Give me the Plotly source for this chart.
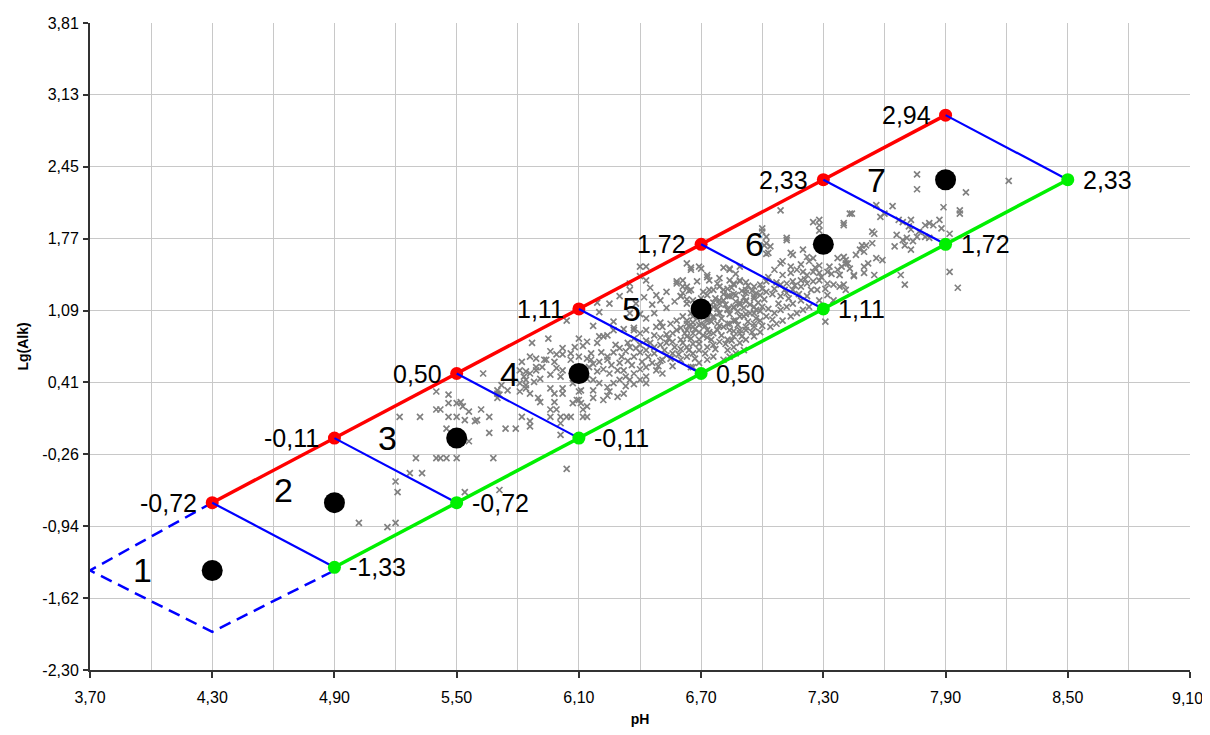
import plotly.graph_objects as go

# ---------------- data ----------------
ph_upper = [4.30, 4.90, 5.50, 6.10, 6.70, 7.30, 7.90]
alk_upper = [-0.72, -0.11, 0.50, 1.11, 1.72, 2.33, 2.94]
ph_lower = [4.90, 5.50, 6.10, 6.70, 7.30, 7.90, 8.50]
alk_lower = [-1.33, -0.72, -0.11, 0.50, 1.11, 1.72, 2.33]
upper_labels = ["-0,72", "-0,11", "0,50", "1,11", "1,72", "2,33", "2,94"]
lower_labels = ["-1,33", "-0,72", "-0,11", "0,50", "1,11", "1,72", "2,33"]

zone_ph = [4.30, 4.90, 5.50, 6.10, 6.70, 7.30, 7.90]
zone_alk = [-1.36, -0.72, -0.11, 0.50, 1.11, 1.72, 2.33]
zone_names = ["1", "2", "3", "4", "5", "6", "7"]

zone1_ph = [4.30, 3.70, 4.30, 4.90]
zone1_alk = [-0.72, -1.36, -1.94, -1.36]

xtick_text = ["3,70", "4,30", "4,90", "5,50", "6,10", "6,70", "7,30", "7,90", "8,50", "9,10"]
ytick_text = ["-2,30", "-1,62", "-0,94", "-0,26", "0,41", "1,09", "1,77", "2,45", "3,13", "3,81"]

sample_points = [
    # tail / zone 3
    (5.02, -0.91), (5.16, -0.95), (5.20, -0.91), (5.20, -0.52), (5.21, -0.62), (5.27, -0.44),
    (5.33, -0.44), (5.30, -0.30), (5.40, -0.30), (5.42, -0.30), (5.45, -0.30), (5.50, -0.30),
    (5.68, -0.30), (5.54, -0.62), (5.71, -0.60), (5.56, -0.14), (5.45, -0.02), (5.66, -0.06),
    (5.74, -0.02), (5.79, -0.02), (5.82, 0.09), (5.86, 0.05), (5.86, 0.00), (5.22, 0.09),
    (5.32, 0.09), (5.46, 0.09), (5.50, 0.09), (5.54, 0.06), (5.59, 0.05), (5.60, 0.06),
    (5.66, 0.09), (5.40, 0.16), (5.42, 0.16), (5.62, 0.16), (5.56, 0.14), (5.53, 0.19),
    (5.52, 0.23), (5.50, 0.22), (5.46, 0.22), (5.46, 0.30), (5.40, 0.33), (5.63, 0.50),
    (6.04, -0.40), (6.01, -0.08),
    # zone 4
    (5.70, 0.34), (5.70, 0.27), (5.71, 0.30), (5.75, 0.34), (5.81, 0.33), (5.84, 0.36),
    (5.86, 0.31), (5.90, 0.27), (5.91, 0.23), (5.84, 0.44), (5.88, 0.42), (5.84, 0.52),
    (5.89, 0.53), (5.92, 0.56), (5.94, 0.63), (5.98, 0.61), (5.99, 0.55), (6.01, 0.47),
    (5.96, 0.36), (5.98, 0.31), (6.02, 0.36), (6.02, 0.31), (5.98, 0.23), (5.96, 0.16),
    (5.99, 0.16), (5.96, 0.09), (6.01, 0.09), (6.04, 0.09), (6.06, 0.09), (6.01, 0.03),
    (6.07, 0.22), (6.09, 0.25), (6.11, 0.34), (6.07, 0.41), (5.99, 0.68), (6.02, 0.68),
    (6.06, 0.69), (5.96, 0.71), (5.91, 0.45), (5.82, 0.61), (5.81, 0.41), (5.84, 0.39),
    (5.86, 0.50), (5.95, 0.83), (6.04, 1.00), (6.02, 0.74), (5.89, 0.64), (5.86, 0.66),
    (5.93, 0.63), (5.87, 0.79), (5.81, 0.53), (5.72, 0.39), (5.70, 0.31), (5.83, 0.47),
    (5.89, 0.56), (5.96, 0.49), (6.02, 0.53), (6.06, 0.63), (6.10, 0.66), (6.08, 0.75),
    (6.12, 0.09), (6.14, 0.19), (6.10, 0.25), (6.17, 0.27), (6.22, 0.25), (6.25, 0.33),
    (6.11, 0.22), (6.12, 0.16), (6.14, 0.09), (6.29, 0.28), (6.32, 0.31), (6.17, 0.34),
    (6.24, 0.29), (6.35, 0.44), (6.43, 0.41), (6.32, 0.53), (6.24, 0.66), (6.19, 0.79),
    (6.22, 0.85), (6.27, 0.91), (6.37, 0.91), (6.35, 0.75), (6.51, 0.63), (6.65, 0.56),
    (6.10, 0.33), (6.14, 0.45), (6.12, 0.53), (6.16, 0.63), (6.10, 0.83),
    # zone 5
    (6.40, 1.51), (6.43, 1.51), (6.40, 1.42), (6.63, 1.54), (6.69, 1.51), (6.58, 1.35),
    (6.35, 1.29), (6.30, 1.23), (6.25, 1.16),
    (6.65, 1.50), (6.73, 1.41), (6.81, 1.50), (6.87, 1.44), (6.58, 1.37), (6.61, 1.32),
    (6.64, 1.28), (6.68, 1.37), (6.71, 1.27), (6.74, 1.29), (6.78, 1.35), (6.83, 1.30),
    (6.86, 1.34), (6.89, 1.37), (6.92, 1.36), (6.95, 1.28), (6.45, 1.31), (6.48, 1.24),
    (6.53, 1.27), (6.57, 1.18), (6.60, 1.23), (6.63, 1.20), (6.46, 1.15), (6.50, 1.19),
    (6.53, 1.12), (6.19, 1.17), (6.20, 1.08), (6.47, 1.07), (6.50, 0.98), (6.43, 1.02),
    (6.40, 1.06), (6.37, 0.93), (6.32, 0.92), (6.27, 0.99), (6.24, 0.86), (6.20, 0.85),
    (6.17, 0.95), (6.14, 0.80), (6.12, 0.76), (6.16, 0.69), (6.17, 0.59), (6.14, 0.64),
    (6.20, 0.61), (6.24, 0.63), (6.27, 0.70), (6.30, 0.74), (6.34, 0.79), (6.37, 0.83),
    (6.40, 0.77), (6.43, 0.81), (6.47, 0.86), (6.50, 0.84), (6.53, 0.87), (6.56, 0.88),
    (6.60, 0.93), (6.63, 0.97), (6.66, 0.98), (6.69, 0.96), (6.73, 1.02), (6.76, 1.03),
    (6.79, 1.07), (6.83, 1.11), (6.86, 1.12), (6.89, 1.17), (6.92, 1.19), (6.96, 1.23),
    (6.76, 1.17), (6.79, 1.19), (6.83, 1.23), (6.86, 1.25), (6.92, 1.26), (6.96, 1.13),
    (6.99, 1.09), (6.79, 0.95), (6.83, 0.97), (6.86, 1.00), (6.89, 1.04), (6.92, 1.06),
    (6.96, 1.07), (6.76, 0.88), (6.73, 0.84), (6.69, 0.82), (6.66, 0.78), (6.63, 0.75),
    (6.60, 0.73), (6.56, 0.69), (6.53, 0.67), (6.50, 0.62), (6.46, 0.60), (6.43, 0.56),
    (6.40, 0.54), (6.37, 0.50), (6.33, 0.47), (6.30, 0.44), (6.27, 0.41), (6.24, 0.37),
    (6.20, 0.41), (6.17, 0.44), (6.30, 0.60), (6.34, 0.62), (6.37, 0.66), (6.40, 0.70),
    (6.43, 0.72), (6.47, 0.75), (6.50, 0.77), (6.53, 0.79), (6.56, 0.80), (6.60, 0.82),
    (6.63, 0.85), (6.66, 0.88), (6.69, 0.89), (6.73, 0.91), (6.60, 0.63), (6.63, 0.66),
    (6.66, 0.69), (6.69, 0.72), (6.73, 0.75), (6.76, 0.77), (6.79, 0.80), (6.83, 0.82),
    (6.86, 0.85), (6.89, 0.88), (6.92, 0.91), (6.96, 0.94), (6.83, 0.72), (6.86, 0.75),
    (6.89, 0.79), (6.92, 0.82), (6.96, 0.85), (6.81, 0.63), (6.84, 0.66), (6.87, 0.69),
    (6.91, 0.72), (6.76, 0.66), (6.73, 0.63), (6.69, 0.60), (6.66, 0.56), (6.51, 0.50),
    (6.48, 0.53), (6.56, 0.57), (6.43, 0.47), (6.40, 0.44), (6.37, 0.40), (6.33, 0.38),
    (6.29, 0.53), (6.25, 0.50), (6.22, 0.54), (6.51, 0.94), (6.55, 0.97), (6.58, 1.00),
    (6.61, 1.04), (6.65, 1.07), (6.68, 1.10), (6.40, 0.88), (6.43, 0.91), (6.48, 0.94),
    (6.35, 1.07), (6.38, 1.16), (6.42, 1.22), (6.43, 1.38), (6.35, 1.35),
    (6.31, 0.66), (6.33, 0.71), (6.36, 0.58), (6.38, 0.74), (6.41, 0.61), (6.44, 0.66),
    (6.45, 0.79), (6.47, 0.69), (6.49, 0.57), (6.52, 0.72), (6.54, 0.83), (6.55, 0.64),
    (6.57, 0.75), (6.58, 0.91), (6.59, 0.68), (6.61, 0.79), (6.62, 0.88), (6.64, 0.72),
    (6.64, 0.95), (6.65, 0.83), (6.67, 0.64), (6.67, 0.92), (6.68, 1.02), (6.69, 0.78),
    (6.71, 0.86), (6.71, 1.14), (6.72, 0.95), (6.72, 0.69), (6.74, 1.08), (6.75, 0.82),
    (6.75, 0.99), (6.77, 1.21), (6.77, 0.73), (6.78, 0.97), (6.78, 1.11), (6.80, 0.86),
    (6.80, 1.02), (6.81, 1.25), (6.82, 0.78), (6.82, 1.15), (6.84, 0.91), (6.84, 1.06),
    (6.85, 1.31), (6.85, 0.81), (6.87, 1.18), (6.88, 0.96), (6.88, 1.09), (6.90, 1.28),
    (6.90, 0.85), (6.91, 1.12), (6.93, 0.99), (6.93, 1.33), (6.94, 1.15), (6.95, 0.89),
    (6.97, 1.26), (6.97, 1.02), (6.98, 1.17), (7.00, 1.30), (7.00, 0.95), (7.01, 1.20),
    (7.03, 1.11), (7.03, 1.41), (7.05, 1.25), (7.05, 1.01), (7.07, 1.36), (7.08, 1.16),
    (7.10, 1.43), (7.11, 1.29), (7.13, 1.21), (7.14, 1.45), (7.16, 1.33), (7.18, 1.25),
    (7.20, 1.46), (7.21, 1.39), (7.24, 1.29), (7.26, 1.50), (7.29, 1.41), (7.31, 1.30),
    (7.34, 1.44), (6.26, 0.58), (6.28, 0.77), (6.21, 0.70), (6.19, 0.52), (6.15, 0.56),
    # zone 6
    (7.09, 2.04), (7.43, 2.01), (7.25, 1.93), (7.28, 1.95), (7.40, 1.92), (7.28, 1.90),
    (7.00, 1.87), (7.02, 1.79), (7.01, 1.71), (7.04, 1.70), (7.02, 1.63), (7.12, 1.76),
    (7.14, 1.64), (7.15, 1.62), (7.20, 1.67), (7.22, 1.60), (7.25, 1.59), (7.23, 1.56),
    (7.09, 1.54), (7.10, 1.56), (7.06, 1.48), (7.14, 1.51), (7.17, 1.48), (7.19, 1.53),
    (7.28, 1.52), (7.33, 1.51), (7.37, 1.59), (7.40, 1.60), (7.41, 1.54), (7.43, 1.49),
    (7.45, 1.42), (7.38, 1.43), (7.37, 1.48), (7.32, 1.46), (7.28, 1.45), (7.25, 1.46),
    (7.22, 1.43), (7.19, 1.38), (7.15, 1.37), (7.12, 1.35), (7.09, 1.34), (7.06, 1.30),
    (7.02, 1.27), (6.99, 1.24), (6.96, 1.21), (6.92, 1.18), (6.89, 1.15), (6.86, 1.13),
    (6.83, 1.10), (6.79, 1.07), (6.76, 1.04), (6.73, 1.00), (6.70, 0.97), (6.66, 0.94),
    (6.63, 0.91), (6.92, 1.29), (6.96, 1.32), (6.99, 1.34), (7.02, 1.37), (6.89, 1.38),
    (6.86, 1.35), (6.84, 1.38), (6.79, 1.32), (6.76, 1.29), (6.73, 1.24), (6.70, 1.21),
    (6.66, 1.19), (6.63, 1.16), (6.60, 1.23), (6.63, 1.32), (6.65, 1.29), (6.61, 1.26),
    (6.81, 1.19), (6.84, 1.23), (6.87, 1.24), (6.91, 1.22), (6.79, 1.16), (6.76, 1.13),
    (6.73, 1.10), (6.70, 1.07), (6.66, 1.04), (6.63, 1.00), (7.09, 1.23), (7.12, 1.26),
    (7.15, 1.29), (7.19, 1.32), (7.22, 1.35), (7.25, 1.37), (7.28, 1.38), (7.32, 1.35),
    (7.35, 1.34), (7.38, 1.32), (7.41, 1.29), (7.22, 1.23), (7.19, 1.19), (7.15, 1.16),
    (7.12, 1.13), (7.09, 1.10), (7.06, 1.07), (7.02, 1.04), (6.99, 1.00), (6.96, 0.97),
    (6.92, 0.94), (6.89, 0.91), (6.86, 0.90), (7.27, 1.29), (7.32, 1.24), (7.35, 1.19),
    (7.00, 1.13), (6.97, 1.10), (6.94, 1.07), (6.91, 1.04), (6.87, 1.00), (6.84, 0.97),
    (6.81, 0.94), (6.78, 0.91), (6.74, 0.89), (6.65, 1.48), (6.70, 1.49), (6.84, 1.48),
    (6.89, 1.51), (6.79, 1.40), (6.81, 1.29), (6.74, 1.38), (6.61, 1.38), (6.99, 0.89),
    (7.04, 0.94), (7.07, 0.97), (7.10, 1.00), (7.14, 1.04), (7.17, 1.07), (7.20, 1.10),
    (7.23, 1.13), (7.31, 0.99), (7.28, 1.19), (7.00, 1.84), (7.02, 1.73), (7.12, 1.78),
    (7.03, 1.64), (7.28, 1.85), (6.84, 1.49), (6.73, 1.43),
    # zone 7
    (7.76, 2.38), (7.76, 2.24), (8.00, 2.21), (8.21, 2.32), (7.89, 2.07), (7.97, 2.04),
    (7.97, 2.01), (7.44, 2.01), (7.40, 1.90), (7.56, 2.09), (7.64, 2.08), (7.67, 1.95),
    (7.69, 1.93), (7.72, 1.89), (7.73, 1.95), (7.80, 1.90), (7.82, 1.92), (7.84, 1.90),
    (7.73, 1.86), (7.77, 1.84), (7.54, 1.84), (7.55, 1.82), (7.66, 1.81), (7.69, 1.76),
    (7.71, 1.78), (7.74, 1.75), (7.76, 1.79), (7.80, 1.79), (7.92, 1.82), (7.88, 1.87),
    (7.49, 1.71), (7.51, 1.71), (7.54, 1.73), (7.48, 1.67), (7.46, 1.62), (7.50, 1.65),
    (7.40, 1.60), (7.41, 1.57), (7.42, 1.54), (7.39, 1.51), (7.45, 1.43), (7.50, 1.51),
    (7.56, 1.59), (7.59, 1.57), (7.52, 1.54), (7.65, 1.70), (7.70, 1.71), (7.73, 1.67),
    (7.50, 1.45), (7.55, 1.43), (7.68, 1.43), (7.70, 1.34), (7.92, 1.46), (7.96, 1.31),
    (7.40, 1.34), (7.38, 1.43), (7.58, 1.98), (7.60, 2.01), (7.87, 1.95), (7.82, 1.78),
]
sample_ph = [p[0] for p in sample_points]
sample_alk = [p[1] for p in sample_points]

# ---------------- figure ----------------
FONT = "Liberation Sans, Arial, sans-serif"
TICK_SIZE = 16
fig = go.Figure()

fig.add_trace(go.Scatter(
    x=sample_ph, y=sample_alk, mode="markers",
    marker=dict(symbol="x-thin", size=6, color="#808080",
                line=dict(width=1.7, color="#808080")),
    hoverinfo="skip"))

fig.add_trace(go.Scatter(
    x=zone1_ph, y=zone1_alk, mode="lines",
    line=dict(color="#0000FF", width=2.5, dash="12px,7px")))

fig.add_trace(go.Scatter(
    x=ph_upper, y=alk_upper, mode="lines+markers",
    line=dict(color="#FF0000", width=3.5),
    marker=dict(color="#FF0000", size=13)))

blue_x, blue_y = [], []
for i in range(len(ph_upper)):
    blue_x += [ph_upper[i], ph_lower[i], None]
    blue_y += [alk_upper[i], alk_lower[i], None]
fig.add_trace(go.Scatter(x=blue_x, y=blue_y, mode="lines",
                         line=dict(color="#0000FF", width=2.2)))

fig.add_trace(go.Scatter(
    x=ph_lower, y=alk_lower, mode="lines+markers",
    line=dict(color="#00F000", width=3.5),
    marker=dict(color="#00F000", size=13)))

fig.add_trace(go.Scatter(
    x=zone_ph, y=zone_alk, mode="markers",
    marker=dict(color="#000000", size=21)))

annotations = []
for x, y, t in zip(ph_upper, alk_upper, upper_labels):
    annotations.append(dict(x=x, y=y, text=t, showarrow=False, xanchor="right",
                            yanchor="middle", xshift=-13,
                            font=dict(family=FONT, size=25, color="#000")))
for x, y, t in zip(ph_lower, alk_lower, lower_labels):
    annotations.append(dict(x=x, y=y, text=t, showarrow=False, xanchor="left",
                            yanchor="middle", xshift=13,
                            font=dict(family=FONT, size=25, color="#000")))
for i, (x, y, t) in enumerate(zip(zone_ph, zone_alk, zone_names)):
    dx, dy = (-0.25, 0.12) if i == 1 else (-0.34, 0.0)
    annotations.append(dict(x=x + dx, y=y + dy, text=t, showarrow=False,
                            xanchor="center", yanchor="middle",
                            font=dict(family=FONT, size=34, color="#000")))

xmin, xmax = 3.70, 9.10
xtick_vals = [xmin + i * 0.6 for i in range(len(xtick_text))]
# last x tick label sits on the page edge: draw it as an annotation nudged inward
xtick_shown = xtick_text[:-1] + [""]
annotations.append(dict(x=xtick_vals[-1], y=0, xref="x", yref="paper", text=xtick_text[-1],
                        showarrow=False, xanchor="center", yanchor="top", xshift=-3, yshift=-18,
                        font=dict(family=FONT, size=TICK_SIZE, color="#000")))

ymin, ymax = -2.30, 3.81
ytick_vals = [ymin + i * (ymax - ymin) / 9 for i in range(10)]

# the page body adds an 8px offset at the top-left
fig.update_layout(
    width=1202, height=719,
    margin=dict(l=82, r=20, t=15, b=57),
    paper_bgcolor="white", plot_bgcolor="white",
    showlegend=False,
    font=dict(family=FONT, color="#000"),
    annotations=annotations,
    xaxis=dict(
        range=[xmin, xmax], tickvals=xtick_vals, ticktext=xtick_shown,
        showgrid=True, gridcolor="#c8c8c8", gridwidth=1,
        minor=dict(dtick=0.3, tick0=xmin, showgrid=True, gridcolor="#c8c8c8", gridwidth=1),
        zeroline=False, showline=True, linecolor="#333333", linewidth=2,
        ticks="outside", ticklen=6, tickcolor="#333333", tickwidth=1.5,
        ticklabelstandoff=6,
        tickfont=dict(family=FONT, size=TICK_SIZE, color="#000"),
        title=dict(text="<b>pH</b>", font=dict(family=FONT, size=14, color="#000"), standoff=21),
        automargin=False,
    ),
    yaxis=dict(
        range=[ymin, ymax], tickvals=ytick_vals, ticktext=ytick_text,
        showgrid=True, gridcolor="#c8c8c8", gridwidth=1,
        zeroline=False, showline=True, linecolor="#333333", linewidth=2,
        ticks="outside", ticklen=5, tickcolor="#333333", tickwidth=1.5,
        ticklabelstandoff=1,
        tickfont=dict(family=FONT, size=TICK_SIZE, color="#000"),
        title=dict(text="<b>Lg(Alk)</b>", font=dict(family=FONT, size=14, color="#000"), standoff=10),
        automargin=False,
    ),
)

fig.write_html("out.html")
